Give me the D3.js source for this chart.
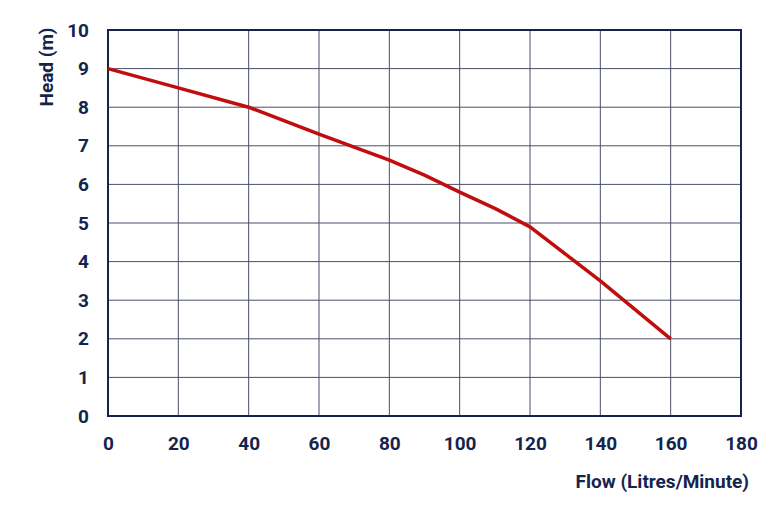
<!DOCTYPE html>
<html>
<head>
<meta charset="utf-8">
<script src="https://cdn.jsdelivr.net/npm/d3@7"></script>
<style>
  body { margin: 0; background: #fff; }
  text { font-family: Roboto, "Noto Sans", sans-serif; font-weight: 700; fill: #15244d; }
</style>
</head>
<body>
<svg width="784" height="508"></svg>
<script>
const flow = [0, 20, 40, 60, 80, 90, 100, 110, 120, 140, 160];
const head = [9, 8.5, 8.0, 7.3, 6.63, 6.24, 5.8, 5.38, 4.9, 3.5, 2.0];
const xTicks = [0, 20, 40, 60, 80, 100, 120, 140, 160, 180];
const yTicks = [0, 1, 2, 3, 4, 5, 6, 7, 8, 9, 10];

const width = 784;
const height = 508;
const margin = { top: 30, right: 43, bottom: 92, left: 108 };
const navy = "#15244d";
const font = "Roboto, sans-serif";

const svg = d3.select("svg")
    .attr("width", width)
    .attr("height", height);

const x = d3.scaleLinear()
    .domain([0, 180])
    .range([margin.left, width - margin.right]);

const y = d3.scaleLinear()
    .domain([0, 10])
    .range([height - margin.bottom, margin.top]);

// grid
svg.append("g")
    .selectAll("line")
    .data(xTicks.slice(1, -1))
    .enter().append("line")
    .attr("x1", d => x(d)).attr("x2", d => x(d))
    .attr("y1", y(0)).attr("y2", y(10))
    .attr("stroke", "#4a5068")
    .attr("stroke-width", 1);

svg.append("g")
    .selectAll("line")
    .data(yTicks.slice(1, -1))
    .enter().append("line")
    .attr("x1", x(0)).attr("x2", x(180))
    .attr("y1", d => y(d)).attr("y2", d => y(d))
    .attr("stroke", "#4a5068")
    .attr("stroke-width", 1);

// frame
svg.append("rect")
    .attr("x", x(0)).attr("y", y(10))
    .attr("width", x(180) - x(0))
    .attr("height", y(0) - y(10))
    .attr("fill", "none")
    .attr("stroke", navy)
    .attr("stroke-width", 2);

// curve
const pts = flow.map((f, i) => [f, head[i]]);
svg.append("path")
    .datum(pts)
    .attr("fill", "none")
    .attr("stroke", "#c00d0d")
    .attr("stroke-width", 3.5)
    .attr("stroke-linejoin", "round")
    .attr("d", d3.line().x(d => x(d[0])).y(d => y(d[1])));

// axes (text only)
const xAxis = svg.append("g")
    .attr("transform", `translate(0,${y(0)})`)
    .call(d3.axisBottom(x).tickValues(xTicks).tickSize(0).tickPadding(21));
const yAxis = svg.append("g")
    .attr("transform", `translate(${x(0)},0)`)
    .call(d3.axisLeft(y).tickValues(yTicks).tickSize(0).tickPadding(19));
[xAxis, yAxis].forEach(g => {
    g.select(".domain").remove();
    g.selectAll("text")
        .attr("fill", navy)
        .style("font-size", "19px")
        .style("font-family", font)
        .style("font-weight", "700");
});

svg.append("text")
    .attr("x", 749).attr("y", 488)
    .attr("text-anchor", "end")
    .style("font-size", "19px")
    .text("Flow (Litres/Minute)");

svg.append("text")
    .attr("transform", "translate(53,67) rotate(-90)")
    .attr("text-anchor", "middle")
    .style("font-size", "19px")
    .text("Head (m)");
</script>
</body>
</html>
